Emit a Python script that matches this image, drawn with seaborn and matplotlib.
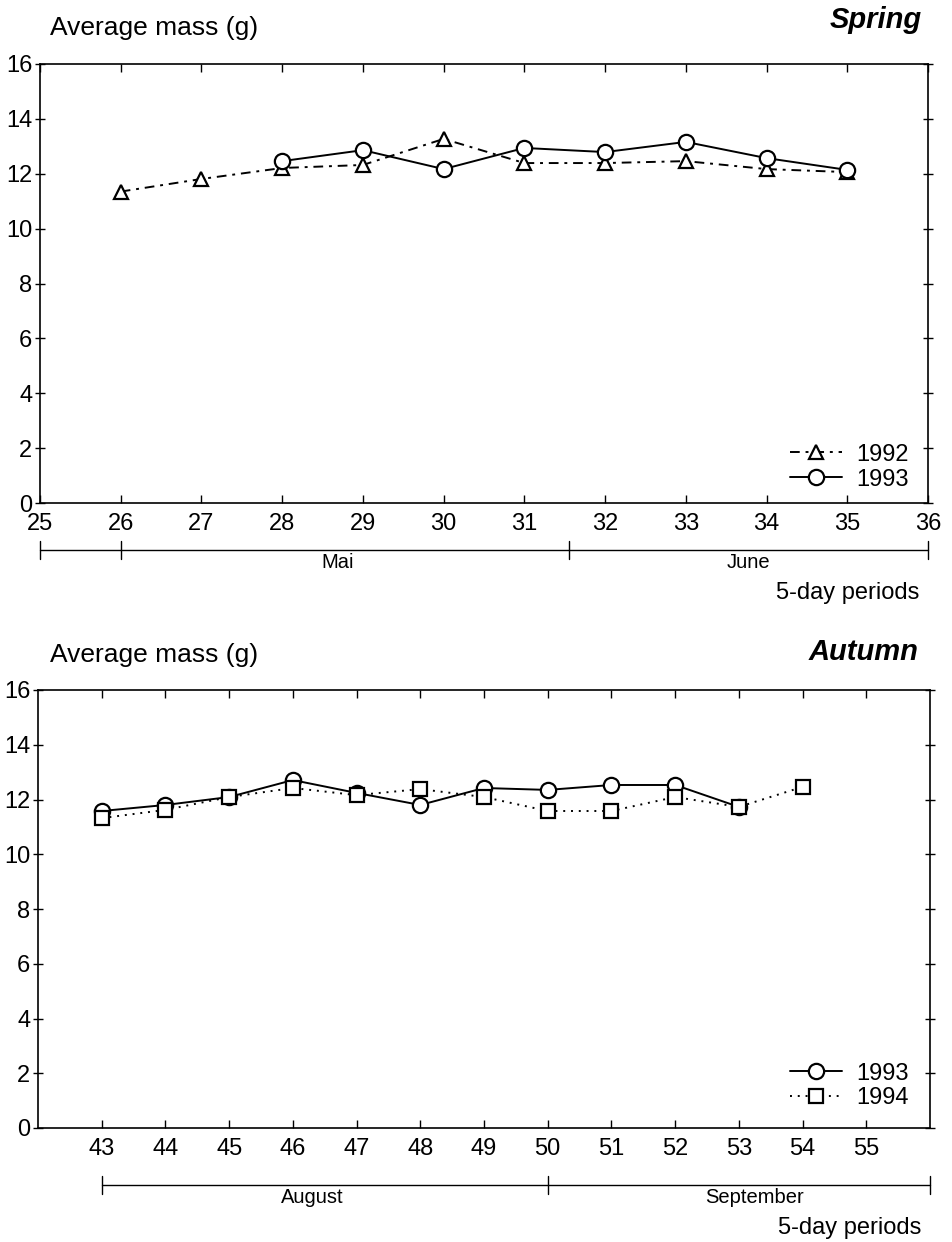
import matplotlib
matplotlib.use("Agg")
import matplotlib.pyplot as plt
import matplotlib.transforms as mtransforms
import seaborn as sns
import pandas as pd

# ---------------- data ----------------
spring_periods_1992 = [26, 27, 28, 29, 30, 31, 32, 33, 34, 35]
spring_mass_1992 = [11.35, 11.81, 12.21, 12.32, 13.27, 12.39, 12.39, 12.46, 12.17, 12.06]
spring_periods_1993 = [28, 29, 30, 31, 32, 33, 34, 35]
spring_mass_1993 = [12.46, 12.86, 12.17, 12.94, 12.79, 13.16, 12.57, 12.14]

autumn_periods_1993 = [43, 44, 45, 46, 47, 48, 49, 50, 51, 52, 53]
autumn_mass_1993 = [11.58, 11.80, 12.09, 12.71, 12.24, 11.80, 12.42, 12.35, 12.53, 12.53, 11.73]
autumn_periods_1994 = [43, 44, 45, 46, 47, 48, 49, 50, 51, 52, 53, 54]
autumn_mass_1994 = [11.32, 11.62, 12.09, 12.42, 12.16, 12.38, 12.09, 11.58, 11.58, 12.09, 11.73, 12.46]

spring_xticks = list(range(25, 37))
autumn_xticks = list(range(43, 56))
y_ticks = [0, 2, 4, 6, 8, 10, 12, 14, 16]

spring_months = ["Mai", "June"]
spring_month_label_x = [28.69, 33.77]
spring_month_ticks = [25, 26, 31.55, 36]
autumn_months = ["August", "September"]
autumn_month_label_x = [46.3, 53.25]
autumn_month_ticks = [43, 50, 56]

# ---------------- style ----------------
sns.set_theme(style="white")
plt.rcParams["font.family"] = ["Liberation Sans", "DejaVu Sans"]
plt.rcParams["axes.edgecolor"] = "black"
plt.rcParams["axes.linewidth"] = 1.2
plt.rcParams["text.color"] = "black"
plt.rcParams["xtick.color"] = "black"
plt.rcParams["ytick.color"] = "black"

fig = plt.figure(figsize=(9.53, 12.42), dpi=100)
ax1 = fig.add_axes([40 / 953, 1 - 503 / 1242, 888 / 953, 439 / 1242])
ax2 = fig.add_axes([38 / 953, 1 - 1128 / 1242, 892 / 953, 438 / 1242])

dashdot = (0, (5, 3, 1.5, 3))
dotted = (0, (1, 3))

series_spring = [
    ("1992", spring_periods_1992, spring_mass_1992, "^", dashdot, 10.5),
    ("1993", spring_periods_1993, spring_mass_1993, "o", "-", 11),
]
series_autumn = [
    ("1993", autumn_periods_1993, autumn_mass_1993, "o", "-", 11),
    ("1994", autumn_periods_1994, autumn_mass_1994, "s", dotted, 10),
]


def draw(ax, series):
    for label, xs, ys, mk, ls, ms in series:
        df = pd.DataFrame({"period": xs, "mass": ys})
        sns.lineplot(data=df, x="period", y="mass", ax=ax, color="black",
                     marker=mk, markersize=ms, markerfacecolor="white",
                     markeredgecolor="black", markeredgewidth=1.6,
                     linestyle=ls, linewidth=1.4, label=label,
                     errorbar=None, sort=False)


def style_axes(ax, xlim, xticks):
    ax.set_xlim(*xlim)
    ax.set_ylim(0, 16)
    ax.set_xticks(xticks)
    ax.set_xticklabels([str(t) for t in xticks])
    ax.set_yticks(y_ticks)
    ax.set_xlabel("")
    ax.set_ylabel("")
    ax.tick_params(axis="x", which="both", direction="in", top=True, bottom=True,
                   length=6, width=1, labelsize=17, pad=7, colors="black")
    ax.tick_params(axis="y", which="both", direction="inout", left=True, right=True,
                   length=7, width=1, labelsize=17, pad=2, colors="black")
    for s in ax.spines.values():
        s.set_visible(True)
        s.set_color("black")


def month_bar(ax, ticks, label_x, labels, y_line, y_text, y_period):
    trans = mtransforms.blended_transform_factory(ax.transData, ax.transAxes)
    ax.plot([ticks[0], ticks[-1]], [y_line, y_line], color="black", lw=1.0,
            transform=trans, clip_on=False)
    for t in ticks:
        ax.plot([t, t], [y_line - 0.02, y_line + 0.02], color="black", lw=1.0,
                transform=trans, clip_on=False)
    for x, lab in zip(label_x, labels):
        ax.text(x, y_text, lab, transform=trans, ha="center", va="center",
                fontsize=14.5, color="black")
    ax.text(0.99, y_period, "5-day periods", transform=ax.transAxes, ha="right",
            va="center", fontsize=17, color="black")


draw(ax1, series_spring)
style_axes(ax1, (25, 36), spring_xticks)
ax1.legend(loc="lower right", bbox_to_anchor=(1.002, -0.02), frameon=False,
           fontsize=17, handlelength=2.2, handletextpad=0.6, labelspacing=0.12)
month_bar(ax1, spring_month_ticks, spring_month_label_x, spring_months, -0.107, -0.136, -0.205)

draw(ax2, series_autumn)
style_axes(ax2, (42, 56), autumn_xticks)
ax2.legend(loc="lower right", bbox_to_anchor=(1.0, -0.006), frameon=False,
           fontsize=17, handlelength=2.2, handletextpad=0.6, labelspacing=0.12)
month_bar(ax2, autumn_month_ticks, autumn_month_label_x, autumn_months, -0.130, -0.158, -0.228)

fig.text(50 / 953, 1 - 28 / 1242, "Average mass (g)", ha="left", va="center", fontsize=19)
fig.text(922 / 953, 1 - 20 / 1242, "Spring", ha="right", va="center", fontsize=21,
         fontweight="bold", fontstyle="italic")
fig.text(50 / 953, 1 - 655 / 1242, "Average mass (g)", ha="left", va="center", fontsize=19)
fig.text(918 / 953, 1 - 652 / 1242, "Autumn", ha="right", va="center", fontsize=21,
         fontweight="bold", fontstyle="italic")

fig.savefig("out.png", dpi=100, facecolor="white")
